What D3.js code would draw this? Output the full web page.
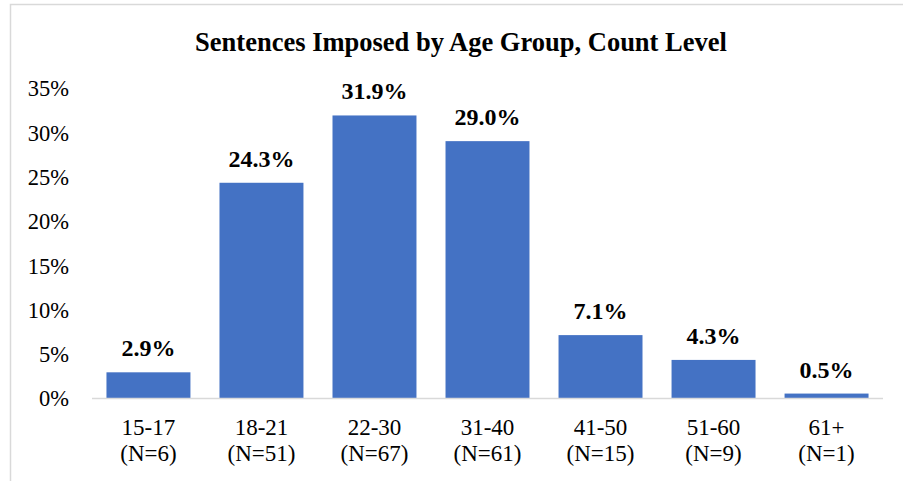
<!DOCTYPE html>
<html>
<head>
<meta charset="utf-8">
<script src="https://cdn.jsdelivr.net/npm/d3@7"></script>
</head>
<body style="margin:0;background:#fff">
<div id="chart"></div>
<script>
const ageGroups = ["15-17", "18-21", "22-30", "31-40", "41-50", "51-60", "61+"];
const counts = ["(N=6)", "(N=51)", "(N=67)", "(N=61)", "(N=15)", "(N=9)", "(N=1)"];
const shares = [2.9, 24.3, 31.9, 29.0, 7.1, 4.3, 0.5];
const yTicks = [0, 5, 10, 15, 20, 25, 30, 35];

(function() {
    const width = 903;
    const height = 481;
    const serif = "Liberation Serif";
    const m = {left: 92, right: 20, top: 88, bottom: 83};

    const svg = d3.select("#chart").append("svg")
        .attr("width", width)
        .attr("height", height)
        .attr("font-family", serif);

    // chart frame
    svg.append("rect")
        .attr("x", 10.5).attr("y", 4.5)
        .attr("width", 905).attr("height", 500)
        .attr("fill", "none")
        .attr("stroke", "#d9d9d9")
        .attr("stroke-width", 1.5);

    svg.append("text")
        .attr("x", 461).attr("y", 51)
        .attr("text-anchor", "middle")
        .attr("font-family", serif)
        .attr("font-size", 26.5)
        .attr("font-weight", "bold")
        .text("Sentences Imposed by Age Group, Count Level");

    const x = d3.scaleBand()
        .domain(ageGroups)
        .range([m.left, width - m.right])
        .paddingInner(0.257)
        .paddingOuter(0.128);

    const y = d3.scaleLinear()
        .domain([0, 35])
        .range([height - m.bottom, m.top]);

    const yAxis = svg.append("g")
        .attr("transform", `translate(${m.left},0)`)
        .call(d3.axisLeft(y).tickValues(yTicks).tickFormat(d => d + "%").tickSize(0).tickPadding(23));
    yAxis.attr("font-family", serif);
    yAxis.select(".domain").remove();
    yAxis.selectAll("text")
        .attr("font-family", serif)
        .attr("font-size", 22.5)
        .attr("dy", "0.35em")
        .attr("fill", "#000");

    svg.append("g")
        .selectAll("rect")
        .data(shares)
        .join("rect")
        .attr("x", (d, i) => x(ageGroups[i]))
        .attr("y", d => y(d))
        .attr("width", x.bandwidth())
        .attr("height", d => y(0) - y(d))
        .attr("fill", "#4472c4");

    svg.append("line")
        .attr("x1", m.left).attr("x2", width - m.right)
        .attr("y1", y(0) + 0.5).attr("y2", y(0) + 0.5)
        .attr("stroke", "#d9d9d9")
        .attr("stroke-width", 1.5);

    svg.append("g")
        .selectAll("text")
        .data(shares)
        .join("text")
        .attr("x", (d, i) => x(ageGroups[i]) + x.bandwidth() / 2)
        .attr("y", d => y(d) - 16)
        .attr("text-anchor", "middle")
        .attr("font-family", serif)
        .attr("font-size", 24)
        .attr("font-weight", "bold")
        .text(d => d.toFixed(1) + "%");

    const xl = svg.append("g")
        .selectAll("text")
        .data(ageGroups)
        .join("text")
        .attr("x", d => x(d) + x.bandwidth() / 2)
        .attr("text-anchor", "middle")
        .attr("font-family", serif)
        .attr("font-size", 23);
    xl.append("tspan")
        .attr("x", d => x(d) + x.bandwidth() / 2)
        .attr("y", 435)
        .text(d => d);
    xl.append("tspan")
        .attr("x", d => x(d) + x.bandwidth() / 2)
        .attr("y", 461)
        .text((d, i) => counts[i]);
}());
</script>
</body>
</html>
